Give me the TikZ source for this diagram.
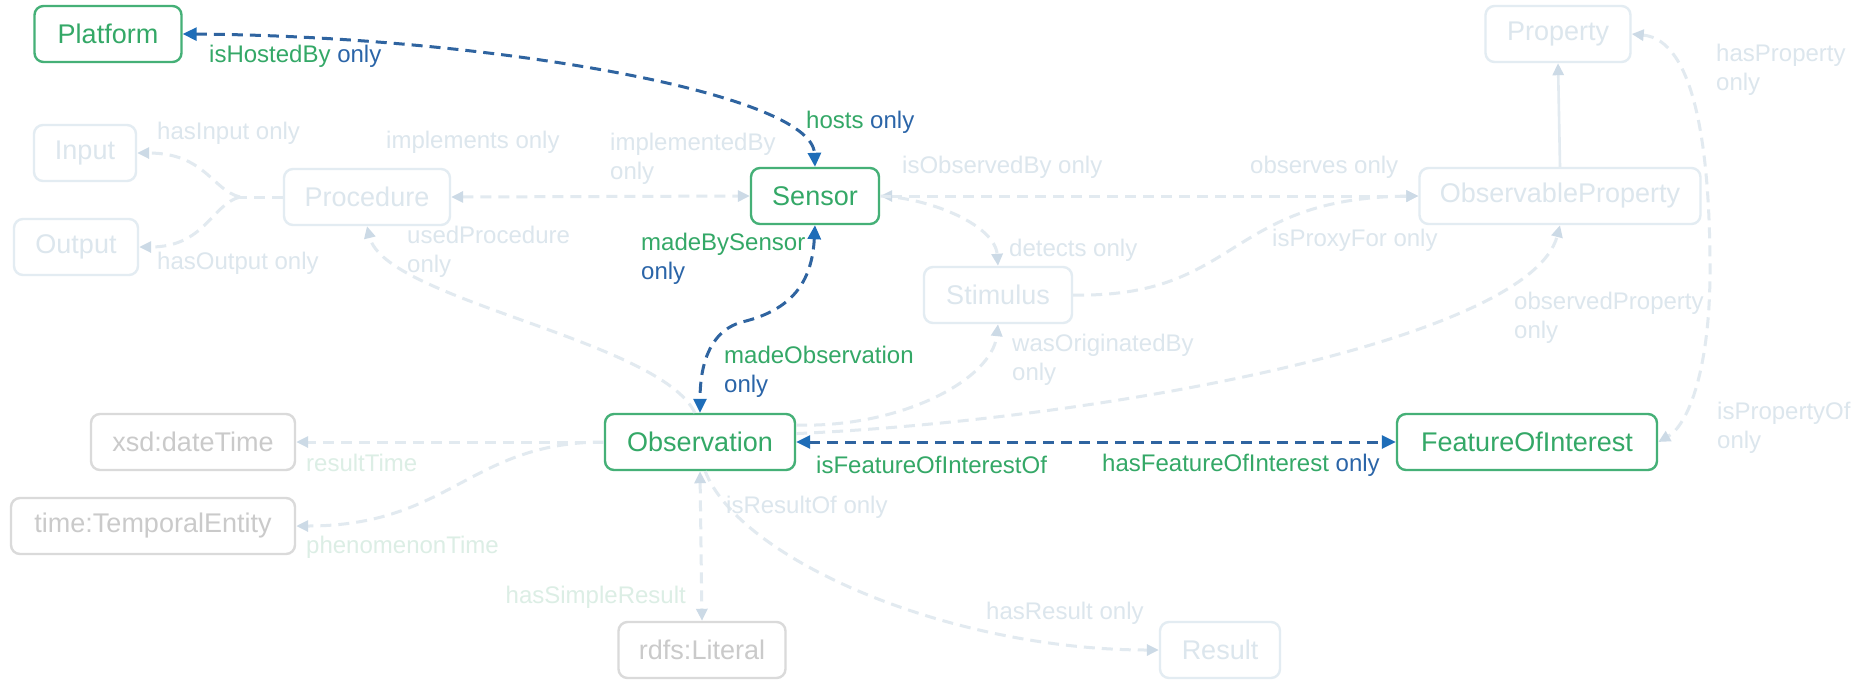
\documentclass[tikz,border=0pt]{standalone}
\usepackage{fontspec}
\setmainfont{Liberation Sans}
\usetikzlibrary{arrows.meta}
\definecolor{gtxt}{HTML}{34A867}
\definecolor{gbrd}{HTML}{45B077}
\definecolor{btxt}{HTML}{2B65A8}
\definecolor{bline}{HTML}{2F64A0}
\definecolor{btip}{HTML}{1E6DB8}
\definecolor{ftxt}{HTML}{DCE6ED}
\definecolor{fbrd}{HTML}{E3ECF2}
\definecolor{fline}{HTML}{E2EAF0}
\definecolor{ftipc}{HTML}{CCDAE6}
\definecolor{fgtxt}{HTML}{DCEEE5}
\definecolor{grtxt}{HTML}{CACACA}
\definecolor{grbrd}{HTML}{DADADA}
\begin{document}
\begin{tikzpicture}[x=1pt,y=-1pt,
  box/.style={draw, rectangle, rounded corners=9pt, line width=2.4pt, minimum height=56pt, inner sep=0pt, font=\fontsize{27}{32}\selectfont},
  act/.style={box, draw=gbrd, text=gtxt},
  fbox/.style={box, draw=fbrd, text=ftxt},
  gbox/.style={box, draw=grbrd, text=grtxt},
  lbl/.style={anchor=west, inner sep=0pt, align=left, font=\fontsize{24}{29}\selectfont},
  flbl/.style={lbl, text=ftxt},
  fglbl/.style={lbl, text=fgtxt},
  aedge/.style={draw=bline, line width=3pt, dash pattern=on 11pt off 7pt},
  fedge/.style={draw=fline, line width=3pt, dash pattern=on 11pt off 7pt},
  atp/.tip={Triangle[length=14pt,width=13pt,color=btip]},
  ftp/.tip={Triangle[length=12pt,width=11pt,color=ftipc]}
]
\useasboundingbox[fill=white] (0,0) rectangle (1865,681);

% nodes
\node[act, minimum width=147pt] (plat) at (108,34) {Platform};
\node[fbox, minimum width=145pt] (prop) at (1558,34) {Property};
\node[fbox, minimum width=102pt] (inp) at (85,153) {Input};
\node[fbox, minimum width=124pt] (outp) at (76,247) {Output};
\node[fbox, minimum width=166pt] (proc) at (367,197) {Procedure};
\node[act, minimum width=128pt] (sens) at (815,196) {Sensor};
\node[fbox, minimum width=281pt] (obsp) at (1560,196) {ObservableProperty};
\node[fbox, minimum width=148pt] (stim) at (998,295) {Stimulus};
\node[act, minimum width=190pt] (obs) at (700,442) {Observation};
\node[act, minimum width=260pt] (foi) at (1527,442) {FeatureOfInterest};
\node[gbox, minimum width=204pt] (xsd) at (193,442) {xsd:dateTime};
\node[gbox, minimum width=284pt] (tent) at (153,526) {time:TemporalEntity};
\node[gbox, minimum width=167pt] (lit) at (702,650) {rdfs:Literal};
\node[fbox, minimum width=120pt] (res) at (1220,650) {Result};

% faded connectors
\coordinate (fork) at (240,197);
\draw[fedge] (proc.west) -- (fork);
\draw[fedge, -{ftp}] (fork) .. controls (212,190) and (205,153) .. (inp.east);
\draw[fedge, -{ftp}] (fork) .. controls (212,204) and (205,247) .. (outp.east);
\draw[fedge, {ftp}-{ftp}] (proc.east) -- (sens.west);
\draw[fedge, {ftp}-{ftp}] (sens.east) -- (obsp.west);
\draw[fedge, -{ftp}] (sens.east) .. controls (930,198) and (995,225) .. (stim.north);
\draw[fedge, -{ftp}] (stim.east) .. controls (1240,298) and (1225,198) .. (obsp.west);
\draw[fedge, -{ftp}] (obs.10) .. controls (900,428) and (992,380) .. (stim.south);
\draw[fedge, -{ftp}] (obs.5) .. controls (1100,420) and (1530,340) .. (obsp.south);
\draw[fedge, -{ftp}] (obs.100) .. controls (660,340) and (385,300) .. (proc.south);
\draw[fedge, -{ftp}] (obs.west) -- (xsd.east);
\draw[fedge, -{ftp}] (obs.west) .. controls (470,442) and (450,526) .. (tent.east);
\draw[fedge, {ftp}-{ftp}] (obs.south) -- (lit.north);
\draw[fedge, -{ftp}] (obs.-80) .. controls (740,560) and (950,650) .. (res.west);
\draw[draw=fline, line width=2.6pt, -{ftp}] (obsp.north) -- (prop.south);
\draw[fedge, {ftp}-{ftp}] (prop.east) .. controls (1695,40) and (1710,150) .. (1710,270) .. controls (1710,370) and (1688,425) .. (foi.east);

% active connectors
\draw[aedge, {atp}-{atp}] (plat.east) .. controls (480,36) and (812,92) .. (sens.north);
\draw[aedge, {atp}-{atp}] (sens.south) .. controls (812,282) and (792,310) .. (742,322) .. controls (706,332) and (700,372) .. (obs.north);
\draw[aedge, {atp}-{atp}] (obs.east) -- (foi.west);

% active labels
\node[lbl] (lhb) at (209,56) {{\color{gtxt}isHostedBy} {\color{btxt}only}};
\node[lbl] (lh) at (806,122) {{\color{gtxt}hosts} {\color{btxt}only}};
\node[lbl] (lmbs) at (641,259) {{\color{gtxt}madeBySensor}\\{\color{btxt}only}};
\node[lbl] (lmo) at (724,372) {{\color{gtxt}madeObservation}\\{\color{btxt}only}};
\node[lbl] (lfo) at (816,465) {{\color{gtxt}isFeatureOfInterestOf}};
\node[lbl] (lhf) at (1102,465) {{\color{gtxt}hasFeatureOfInterest} {\color{btxt}only}};

% faded labels
\node[flbl] (lhi) at (157,133) {hasInput only};
\node[flbl] (lho) at (157,263) {hasOutput only};
\node[flbl] (lim) at (386,142) {implements only};
\node[flbl] (lib) at (610,159) {implementedBy\\only};
\node[flbl] (lup) at (407,252) {usedProcedure\\only};
\node[flbl] (lob) at (902,167) {isObservedBy only};
\node[flbl] (los) at (1250,167) {observes only};
\node[flbl] (lde) at (1009,250) {detects only};
\node[flbl] (lpf) at (1272,240) {isProxyFor only};
\node[flbl] (lwo) at (1012,360) {wasOriginatedBy\\only};
\node[flbl] (lop) at (1514,318) {observedProperty\\only};
\node[flbl] (lhp) at (1716,70) {hasProperty\\only};
\node[flbl] (lpo) at (1717,428) {isPropertyOf\\only};
\node[fglbl] (lrt) at (306,463) {resultTime};
\node[fglbl] (lpt) at (306,547) {phenomenonTime};
\node[flbl] (lro) at (726,507) {isResultOf only};
\node[fglbl, anchor=east] (lsr) at (686,597) {hasSimpleResult};
\node[flbl] (lhr) at (986,613) {hasResult only};
\end{tikzpicture}
\end{document}
